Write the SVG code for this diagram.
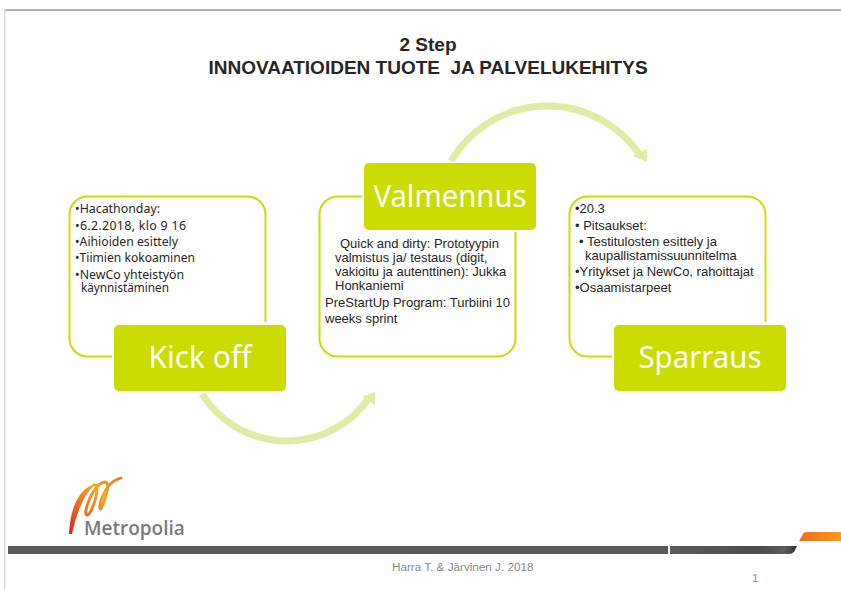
<svg xmlns="http://www.w3.org/2000/svg" width="841" height="589" viewBox="0 0 841 589">
<defs>
<linearGradient id="bar" x1="0" x2="1" y1="0" y2="0"><stop offset="0" stop-color="#5a5a5a"/><stop offset="0.7" stop-color="#4c4c4c"/><stop offset="0.9" stop-color="#5c5c5c"/><stop offset="1" stop-color="#333"/></linearGradient>
<linearGradient id="orange" x1="0" x2="1" y1="0" y2="0"><stop offset="0" stop-color="#f26a21"/><stop offset="1" stop-color="#fb9a1e"/></linearGradient>
<linearGradient id="swoosh" gradientUnits="userSpaceOnUse" x1="70" y1="534" x2="120" y2="480"><stop offset="0" stop-color="#d9262a"/><stop offset="0.4" stop-color="#f2701f"/><stop offset="0.7" stop-color="#f9a71a"/><stop offset="1" stop-color="#ee7a1e"/></linearGradient>
</defs>
<style>
.frame{fill:none;stroke:#c9dc00;stroke-width:2}
.halo{fill:#fff}
.head{fill:#cbdc00}
.headt{font-family:"Noto Sans","DejaVu Sans",sans-serif;font-size:31px;fill:#fff;text-anchor:middle}
.body{font-family:"Noto Sans","DejaVu Sans",sans-serif;font-size:12.400px;fill:#262626}
.arial{font-family:"Liberation Sans",Arial,sans-serif;font-size:13px;fill:#262626}
.title{font-family:"Liberation Sans",Arial,sans-serif;font-size:19px;font-weight:bold;fill:#262626;text-anchor:middle}
.foot{font-family:"Liberation Sans",Arial,sans-serif;font-size:11.700px;fill:#8a8a8a}
.arc{fill:none;stroke:#e2eba6;stroke-width:7}
.tip{fill:#e2eba6}
</style>
<g id="page">
<rect x="5" y="9" width="836" height="2" fill="#b4b4b4"/>
<rect x="4" y="9" width="1.500" height="580" fill="#dcdcdc"/>
<rect x="8" y="546" width="660" height="8" fill="#5a5a5a"/>
<path d="M670 546H797L796 548Q794 554 789 554H670Z" fill="url(#bar)"/>
<path d="M799 541L802 536Q803 532 807 532H841V541Z" fill="url(#orange)"/>
</g>
<g id="connectors">
<path class="arc" d="M202 394A100 100 0 0 0 369 398"/>
<path class="tip" d="M375 392L375 405L362 397Z"/>
<path class="arc" d="M451 161A112 112 0 0 1 640 155"/>
<path class="tip" d="M647 162L633 156L647 149Z"/>
</g>
<g id="title">
<text class="title" x="428" y="51">2 Step</text>
<text class="title" x="428" y="74" xml:space="preserve">INNOVAATIOIDEN TUOTE  JA PALVELUKEHITYS</text>
</g>
<g id="kickoff">
<rect class="frame" x="69.500" y="196.500" width="196" height="160" rx="18"/>
<rect class="halo" x="112" y="322" width="176" height="71" rx="6"/>
<rect class="head" x="114" y="325" width="172" height="66" rx="5"/>
<text class="headt" x="200" y="368" textLength="103" lengthAdjust="spacingAndGlyphs">Kick off</text>
<text class="body" x="75" y="213" textLength="85" lengthAdjust="spacingAndGlyphs">•Hacathonday:</text>
<text class="body" x="75" y="230" textLength="111" lengthAdjust="spacing">•6.2.2018, klo 9 16</text>
<text class="body" x="75" y="246" textLength="103" lengthAdjust="spacingAndGlyphs">•Aihioiden esittely</text>
<text class="body" x="75" y="262" textLength="120" lengthAdjust="spacingAndGlyphs">•Tiimien kokoaminen</text>
<text class="body" x="75" y="279" textLength="109" lengthAdjust="spacingAndGlyphs">•NewCo yhteistyön</text>
<text class="body" x="81" y="292" textLength="88" lengthAdjust="spacingAndGlyphs">käynnistäminen</text>
</g>
<g id="valmennus">
<rect class="frame" x="319.500" y="196.500" width="196" height="160" rx="18"/>
<rect class="halo" x="362" y="161" width="176" height="71" rx="6"/>
<rect class="head" x="364" y="163" width="172" height="67" rx="5"/>
<text class="headt" x="450" y="207" textLength="153" lengthAdjust="spacingAndGlyphs">Valmennus</text>
<text class="arial" x="340" y="248">Quick and dirty: Prototyypin</text>
<text class="arial" x="335" y="262">valmistus ja/ testaus (digit,</text>
<text class="arial" x="335" y="276">vakioitu ja autenttinen): Jukka</text>
<text class="arial" x="335" y="290">Honkaniemi</text>
<text class="arial" x="325" y="307">PreStartUp Program: Turbiini 10</text>
<text class="arial" x="325" y="323">weeks sprint</text>
</g>
<g id="sparraus">
<rect class="frame" x="569.500" y="196.500" width="196" height="160" rx="18"/>
<rect class="halo" x="612" y="322" width="176" height="71" rx="6"/>
<rect class="head" x="614" y="325" width="172" height="66" rx="5"/>
<text class="headt" x="700" y="368" textLength="123" lengthAdjust="spacingAndGlyphs">Sparraus</text>
<text class="arial" x="575" y="213">•20.3</text>
<text class="arial" x="575" y="230">• Pitsaukset:</text>
<text class="arial" x="579" y="246">• Testitulosten esittely ja</text>
<text class="arial" x="585" y="260">kaupallistamissuunnitelma</text>
<text class="arial" x="575" y="276">•Yritykset ja NewCo, rahoittajat</text>
<text class="arial" x="575" y="292">•Osaamistarpeet</text>
</g>
<g id="logo">
<path d="M69 534C70 512 77 491 92 485L97 484C88 488 78 506 72 534Z" fill="url(#swoosh)"/>
<path d="M94 485C102 483 92 515 87 515C82 515 93 483 105 482C113 482 101 509 101 509C97 511 103 482 121 478" fill="none" stroke="url(#swoosh)" stroke-width="2.800" stroke-linecap="round"/>
<text x="84" y="535" font-family="'Open Sans','Noto Sans',sans-serif" font-size="19px" font-weight="600" fill="#77787b">Metropolia</text>
</g>
<g id="footer">
<text class="foot" x="392" y="571">Harra T. &amp; Järvinen J. 2018</text>
<text class="foot" x="752" y="582">1</text>
</g>
</svg>
